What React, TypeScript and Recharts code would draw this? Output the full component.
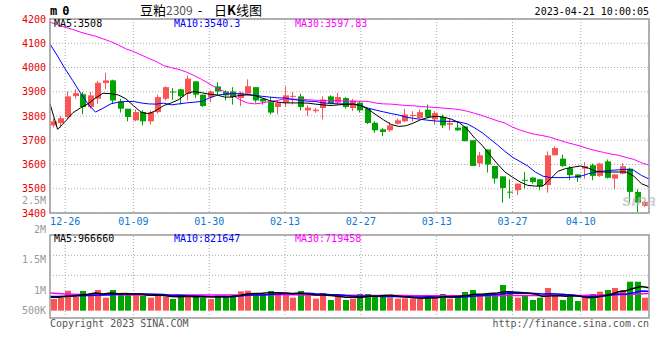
import React from 'react';
import { ComposedChart, Bar, Line, XAxis, YAxis, CartesianGrid, ReferenceLine } from 'recharts';

// 交易日 (2022-12-22 ~ 2023-04-21)
const dates = [
  '12-22', '12-23', '12-26', '12-27', '12-28', '12-29', '12-30', '01-03', '01-04', '01-05',
  '01-06', '01-09', '01-10', '01-11', '01-12', '01-13', '01-16', '01-17', '01-18', '01-19',
  '01-20', '01-30', '01-31', '02-01', '02-02', '02-03', '02-06', '02-07', '02-08', '02-09',
  '02-10', '02-13', '02-14', '02-15', '02-16', '02-17', '02-20', '02-21', '02-22', '02-23',
  '02-24', '02-27', '02-28', '03-01', '03-02', '03-03', '03-06', '03-07', '03-08', '03-09',
  '03-10', '03-13', '03-14', '03-15', '03-16', '03-17', '03-20', '03-21', '03-22', '03-23',
  '03-24', '03-27', '03-28', '03-29', '03-30', '03-31', '04-03', '04-04', '04-06', '04-07',
  '04-10', '04-11', '04-12', '04-13', '04-14', '04-17', '04-18', '04-19', '04-20', '04-21'
];

const openPrices = [
  3761, 3771, 3796, 3882, 3890, 3837, 3871, 3936, 3947, 3860,
  3830, 3782, 3816, 3778, 3816, 3871, 3901, 3910, 3892, 3943,
  3888, 3878, 3922, 3901, 3901, 3874, 3892, 3919, 3871, 3857,
  3837, 3855, 3880, 3881, 3823, 3820, 3833, 3881, 3855, 3874,
  3833, 3855, 3830, 3772, 3745, 3741, 3768, 3778, 3801, 3792,
  3826, 3786, 3796, 3764, 3752, 3757, 3700, 3604, 3662, 3594,
  3551, 3488, 3494, 3537, 3546, 3539, 3515, 3638, 3624, 3585,
  3559, 3583, 3597, 3553, 3613, 3542, 3562, 3583, 3487, 3429
];
const closePrices = [
  3778, 3791, 3881, 3894, 3837, 3885, 3937, 3947, 3864, 3830,
  3796, 3816, 3778, 3816, 3878, 3919, 3899, 3881, 3954, 3888,
  3841, 3901, 3901, 3885, 3878, 3896, 3923, 3864, 3860, 3814,
  3853, 3885, 3883, 3837, 3834, 3826, 3868, 3851, 3878, 3837,
  3864, 3823, 3771, 3741, 3734, 3761, 3782, 3806, 3804, 3816,
  3796, 3812, 3761, 3771, 3741, 3696, 3594, 3638, 3600, 3542,
  3503, 3486, 3521, 3534, 3528, 3511, 3638, 3668, 3594, 3556,
  3545, 3593, 3553, 3604, 3545, 3559, 3593, 3487, 3443, 3446
];
const highPrices = [
  3789, 3800, 3901, 3910, 3899, 3899, 3945, 3978, 3950, 3871,
  3830, 3827, 3824, 3822, 3888, 3922, 3915, 3912, 3967, 3943,
  3888, 3906, 3940, 3906, 3919, 3901, 3951, 3919, 3874, 3878,
  3864, 3922, 3899, 3892, 3844, 3834, 3881, 3885, 3896, 3878,
  3871, 3860, 3830, 3778, 3751, 3775, 3789, 3830, 3820, 3827,
  3847, 3820, 3806, 3789, 3775, 3757, 3700, 3652, 3662, 3594,
  3551, 3539, 3521, 3569, 3548, 3539, 3654, 3675, 3641, 3594,
  3559, 3610, 3604, 3607, 3621, 3560, 3607, 3587, 3498, 3450
];
const lowPrices = [
  3753, 3752, 3790, 3871, 3807, 3830, 3851, 3910, 3851, 3814,
  3778, 3778, 3761, 3765, 3810, 3864, 3867, 3847, 3864, 3874,
  3837, 3857, 3885, 3864, 3847, 3841, 3885, 3855, 3847, 3806,
  3806, 3837, 3847, 3823, 3800, 3813, 3786, 3847, 3847, 3830,
  3820, 3814, 3767, 3731, 3717, 3735, 3765, 3775, 3778, 3789,
  3792, 3764, 3750, 3741, 3738, 3696, 3594, 3590, 3567, 3521,
  3443, 3460, 3473, 3501, 3521, 3494, 3484, 3638, 3590, 3535,
  3528, 3542, 3535, 3549, 3542, 3498, 3559, 3443, 3404, 3425
];

const ma5 = [
  3850, 3745, 3777, 3813, 3833, 3850, 3874, 3894, 3892, 3887,
  3871, 3843, 3816, 3809, 3823, 3843, 3854, 3868, 3892, 3901,
  3896, 3890, 3887, 3878, 3878, 3885, 3887, 3885, 3874, 3863,
  3857, 3854, 3854, 3854, 3853, 3849, 3846, 3843, 3846, 3848,
  3849, 3843, 3827, 3805, 3784, 3765, 3757, 3760, 3772, 3786,
  3795, 3799, 3795, 3786, 3772, 3747, 3709, 3679, 3640, 3603,
  3569, 3548, 3528, 3514, 3511, 3511, 3541, 3572, 3583, 3589,
  3594, 3585, 3572, 3569, 3569, 3569, 3569, 3552, 3521, 3508
];
const ma10 = [
  4097, 4047, 3994, 3946, 3896, 3850, 3816, 3832, 3850, 3857,
  3860, 3860, 3854, 3850, 3849, 3853, 3846, 3850, 3854, 3857,
  3860, 3874, 3885, 3890, 3892, 3892, 3889, 3885, 3881, 3878,
  3875, 3874, 3868, 3865, 3861, 3860, 3854, 3852, 3850, 3850,
  3849, 3843, 3832, 3824, 3817, 3810, 3804, 3795, 3790, 3786,
  3782, 3779, 3778, 3778, 3775, 3768, 3751, 3731, 3706, 3681,
  3654, 3630, 3612, 3594, 3569, 3552, 3546, 3546, 3546, 3548,
  3552, 3562, 3569, 3573, 3576, 3578, 3580, 3576, 3555, 3540.3
];
const ma30 = [
  4187, 4176, 4166, 4157, 4146, 4137, 4129, 4118, 4107, 4093,
  4077, 4066, 4052, 4038, 4025, 4008, 3999, 3992, 3981, 3967,
  3951, 3933, 3915, 3901, 3887, 3868, 3854, 3850, 3854, 3860,
  3864, 3871, 3870, 3868, 3867, 3865, 3864, 3863, 3863, 3861,
  3861, 3861, 3860, 3853, 3850, 3849, 3846, 3843, 3842, 3839,
  3837, 3835, 3832, 3830, 3826, 3820, 3811, 3802, 3791, 3780,
  3771, 3754, 3742, 3732, 3724, 3719, 3712, 3702, 3692, 3684,
  3675, 3665, 3657, 3650, 3643, 3638, 3629, 3621, 3607, 3597.83
];

// 成交量 (千手)
const volumes = [
  491, 547, 842, 589, 828, 660, 870, 547, 870, 660,
  702, 702, 631, 547, 702, 589, 491, 617, 617, 631,
  547, 491, 646, 617, 660, 814, 842, 744, 660, 828,
  758, 758, 547, 828, 660, 505, 744, 449, 660, 449,
  505, 702, 702, 660, 617, 561, 505, 519, 505, 505,
  617, 589, 702, 505, 617, 786, 870, 702, 702, 702,
  1081, 800, 547, 617, 449, 547, 954, 617, 449, 589,
  407, 660, 702, 800, 870, 954, 870, 1221, 1221, 547
];
const volMa5 = [
  560, 560, 600, 620, 659, 693, 740, 699, 740, 715,
  720, 696, 705, 648, 657, 634, 592, 589, 603, 589,
  581, 581, 586, 586, 592, 640, 705, 725, 735, 760,
  755, 745, 710, 735, 705, 660, 657, 637, 604, 561,
  561, 553, 604, 604, 637, 648, 609, 572, 541, 519,
  530, 547, 584, 584, 606, 640, 690, 690, 725, 745,
  800, 790, 766, 749, 699, 592, 623, 637, 603, 631,
  603, 544, 561, 632, 688, 797, 839, 943, 1020, 966.66
];
const volMa10 = [
  600, 600, 610, 620, 630, 640, 650, 660, 675, 690,
  705, 715, 700, 698, 689, 682, 644, 651, 626, 623,
  607, 586, 588, 595, 591, 613, 648, 661, 665, 685,
  700, 725, 720, 735, 735, 713, 703, 674, 674, 636,
  611, 605, 620, 604, 599, 605, 581, 588, 573, 578,
  589, 578, 578, 563, 563, 585, 622, 640, 660, 679,
  720, 740, 731, 738, 726, 702, 710, 702, 676, 665,
  598, 584, 599, 617, 660, 700, 692, 752, 825, 821.647
];
const volMa30 = [
  740, 720, 705, 690, 680, 675, 672, 670, 668, 666,
  665, 664, 662, 660, 660, 658, 656, 655, 655, 656,
  656, 657, 658, 660, 662, 664, 665, 666, 666, 666,
  667, 668, 666, 665, 663, 660, 657, 654, 651, 648,
  645, 642, 640, 638, 637, 636, 635, 634, 633, 633,
  632, 632, 632, 631, 631, 631, 631, 631, 631, 631,
  634, 636, 636, 637, 637, 638, 639, 640, 640, 641,
  643, 646, 650, 655, 662, 670, 680, 695, 710, 719.458
];

const tickDates = ['12-26', '01-09', '01-30', '02-13', '02-27', '03-13', '03-27', '04-10'];
const priceTicks = [3400, 3500, 3600, 3700, 3800, 3900, 4000, 4100, 4200];
const volGrid = [1490, 2330];

const UP = '#fa5555';
const DOWN = '#00a300';
const MONO = '"DejaVu Sans Mono", "Liberation Mono", monospace';
const last = dates.length - 1;

const rows = dates.map((d, i) => ({
  date: d,
  idx: i,
  open: openPrices[i],
  close: closePrices[i],
  high: highPrices[i],
  low: lowPrices[i],
  range: [lowPrices[i], highPrices[i]],
  ma5: ma5[i],
  ma10: ma10[i],
  ma30: ma30[i],
  vol: volumes[i],
  vma5: volMa5[i],
  vma10: volMa10[i],
  vma30: volMa30[i]
}));

const tickIdx = tickDates.map(d => dates.indexOf(d));

// K线: 用区间柱 [low, high] 的像素位置换算实体
const Candle = (props: any) => {
  const { x, y, width, height, payload } = props;
  if (x == null || y == null) return null;
  const { open, close, high, low } = payload;
  const top = Math.min(y, y + height);
  const h = Math.abs(height);
  const k = high === low ? 0 : h / (high - low);
  const yOf = (v: number) => top + (high - v) * k;
  const color = close >= open ? UP : DOWN;
  const x0 = Math.floor(x);
  const cx = x0 + Math.floor(width / 2) - 0.5;
  const bTop = yOf(Math.max(open, close));
  const bH = Math.max(1, yOf(Math.min(open, close)) - bTop);
  return (
    <g>
      <line x1={cx} x2={cx} y1={top} y2={top + h} stroke={color} strokeWidth={1} />
      <rect x={x0} y={bTop} width={Math.round(width)} height={bH} fill={color} />
    </g>
  );
};

const VolBar = (props: any) => {
  const { x, y, width, height, payload } = props;
  if (x == null || y == null) return null;
  const color = payload.close >= payload.open ? UP : DOWN;
  return <rect x={Math.floor(x)} y={y} width={Math.round(width)} height={height} fill={color} />;
};

const PriceTick = (props: any) => (
  <text x={46} y={props.y} dy={3.5} textAnchor="end" fill="#e80000" fontSize={10} fontFamily={MONO}>
    {props.payload.value}
  </text>
);

// 日期标签: 紧贴主图底边
const DateTick = (props: any) => (
  <text x={props.x} y={225} textAnchor="middle" fill="#0a78d4" fontSize={10} fontFamily={MONO}>
    {dates[props.payload.value]}
  </text>
);

const App = () => {
  return (
    <div style={{ position: 'absolute', left: 0, top: 0, width: 660, height: 360, background: '#fff', overflow: 'hidden' }}>
      {/* 主图 K线 */}
      <div style={{ position: 'absolute', left: 0, top: 0 }}>
        <ComposedChart width={660} height={230} data={rows} margin={{ top: 19, right: 11, bottom: 0, left: 0 }}>
          <CartesianGrid xAxisId="l" yAxisId="p" stroke="#aaa" strokeDasharray="1 2" />
          <XAxis xAxisId="c" dataKey="date" type="category" hide />
          <XAxis
            xAxisId="l"
            dataKey="idx"
            type="number"
            domain={[0, last]}
            ticks={tickIdx}
            interval={0}
            axisLine={false}
            tickLine={false}
            tickSize={0}
            tickMargin={0}
            height={17}
            tick={DateTick}
          />
          <YAxis
            yAxisId="p"
            domain={[3400, 4200]}
            ticks={priceTicks}
            interval={0}
            width={50}
            axisLine={false}
            tickLine={false}
            tick={PriceTick}
          />
          <Bar xAxisId="c" yAxisId="p" dataKey="range" barSize={6} shape={Candle} isAnimationActive={false} />
          <Line xAxisId="l" yAxisId="p" dataKey="ma30" stroke="#ff00ff" strokeWidth={1} dot={false} isAnimationActive={false} />
          <Line xAxisId="l" yAxisId="p" dataKey="ma10" stroke="#0000ff" strokeWidth={1} dot={false} isAnimationActive={false} />
          <Line xAxisId="l" yAxisId="p" dataKey="ma5" stroke="#000" strokeWidth={1} dot={false} isAnimationActive={false} />
        </ComposedChart>
      </div>

      {/* 成交量 */}
      <div style={{ position: 'absolute', left: 0, top: 228 }}>
        <ComposedChart width={660} height={92} data={rows} margin={{ top: 7, right: 11, bottom: 2, left: 50 }}>
          <XAxis xAxisId="c" dataKey="date" type="category" hide />
          <XAxis xAxisId="l" dataKey="idx" type="number" domain={[0, last]} hide />
          <YAxis yAxisId="v" domain={[-310, 3190]} hide />
          {volGrid.map(v => (
            <ReferenceLine key={v} xAxisId="l" yAxisId="v" y={v} stroke="#aaa" strokeDasharray="1 2" />
          ))}
          {tickIdx.map(i => (
            <ReferenceLine key={i} xAxisId="l" yAxisId="v" x={i} stroke="#aaa" strokeDasharray="1 2" />
          ))}
          <Bar xAxisId="c" yAxisId="v" dataKey="vol" barSize={6} shape={VolBar} isAnimationActive={false} />
          <Line xAxisId="l" yAxisId="v" dataKey="vma30" stroke="#ff00ff" strokeWidth={1.5} dot={false} isAnimationActive={false} />
          <Line xAxisId="l" yAxisId="v" dataKey="vma10" stroke="#0000ff" strokeWidth={1.5} dot={false} isAnimationActive={false} />
          <Line xAxisId="l" yAxisId="v" dataKey="vma5" stroke="#000" strokeWidth={1.5} dot={false} isAnimationActive={false} />
        </ComposedChart>
      </div>

      {/* 边框与文字 */}
      <svg width={660} height={360} style={{ position: 'absolute', left: 0, top: 0, pointerEvents: 'none' }}>
        <rect x={50} y={19} width={599} height={194} fill="none" stroke="#999" strokeWidth={1.5} />
        <rect x={50} y={235} width={599} height={83} fill="none" stroke="#999" strokeWidth={1.5} />

        <text x={50} y={15} fontSize={12} fontWeight="bold" fontFamily={MONO} letterSpacing={5} fill="#000">m0</text>
        <text x={140} y={14.5} fontSize={13} fontFamily='"Noto Sans CJK SC", sans-serif' fill="#000">
          豆粕<tspan fill="#555" fontSize={12}>2309</tspan>
        </text>
        <text x={200} y={14.5} fontSize={13} textAnchor="middle" fontFamily='"Noto Sans CJK SC", sans-serif' fill="#000">-</text>
        <text x={214} y={14.5} fontSize={13} fontFamily='"Noto Sans CJK SC", sans-serif' fill="#000">
          日<tspan fontWeight="bold">K</tspan>线图
        </text>
        <text x={649} y={15} fontSize={10} textAnchor="end" fontFamily={MONO} fill="#000">2023-04-21 10:00:05</text>

        <text x={54} y={26.5} fontSize={10} fontFamily={MONO} fill="#000">{`MA5:${ma5[last]}`}</text>
        <text x={174} y={26.5} fontSize={10} fontFamily={MONO} fill="#0000ff">{`MA10:${ma10[last]}`}</text>
        <text x={295} y={26.5} fontSize={10} fontFamily={MONO} fill="#ff00ff">{`MA30:${ma30[last]}`}</text>

        <text x={46} y={204} fontSize={10} textAnchor="end" fontFamily={MONO} fill="#999">2.5M</text>
        <text x={46} y={233} fontSize={10} textAnchor="end" fontFamily={MONO} fill="#999">2M</text>
        <text x={46} y={263} fontSize={10} textAnchor="end" fontFamily={MONO} fill="#999">1.5M</text>
        <text x={46} y={294} fontSize={10} textAnchor="end" fontFamily={MONO} fill="#999">1M</text>
        <text x={46} y={314} fontSize={10} textAnchor="end" fontFamily={MONO} fill="#999">500K</text>

        <text x={54} y={242} fontSize={10} fontFamily={MONO} fill="#000">{`MA5:${Math.round(volMa5[last] * 1000)}`}</text>
        <text x={174} y={242} fontSize={10} fontFamily={MONO} fill="#0000ff">{`MA10:${Math.round(volMa10[last] * 1000)}`}</text>
        <text x={295} y={242} fontSize={10} fontFamily={MONO} fill="#ff00ff">{`MA30:${Math.round(volMa30[last] * 1000)}`}</text>

        <text x={622} y={206} fontSize={17} fontStyle="italic" fontWeight="bold" fontFamily="Arial, sans-serif" fill="#bbb" opacity={0.7}>sina</text>

        <text x={50} y={327} fontSize={10} fontFamily={MONO} fill="#555">Copyright 2023 SINA.COM</text>
        <text x={649} y={327} fontSize={10} textAnchor="end" fontFamily={MONO} fill="#555">http://finance.sina.com.cn</text>
      </svg>
    </div>
  );
};

export default App;
